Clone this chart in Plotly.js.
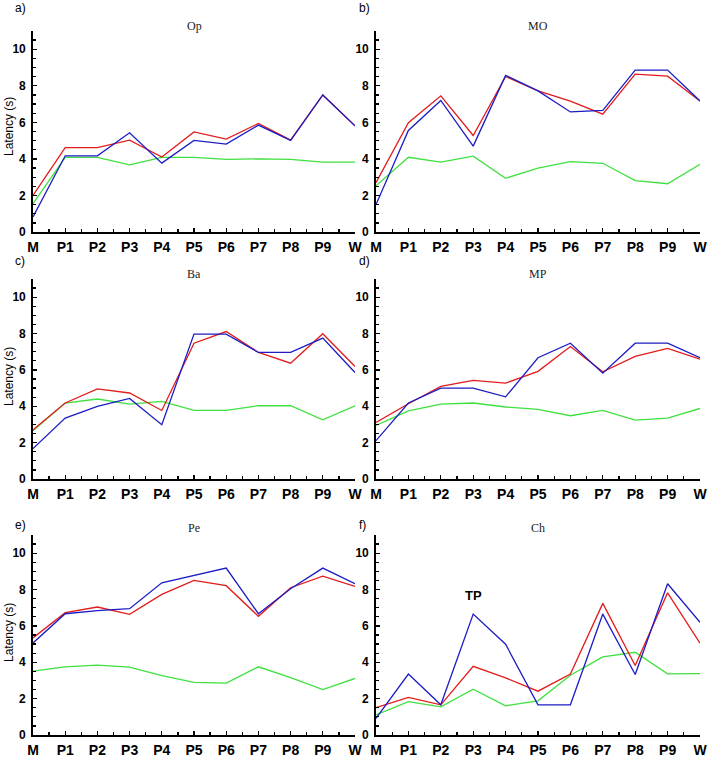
<!DOCTYPE html>
<html>
<head>
<meta charset="utf-8">
<script src="https://cdn.plot.ly/plotly-3.0.1.min.js"></script>
<style>
  body { margin: 0; background: #fff; }
  #chart { width: 709px; height: 757px; }
</style>
</head>
<body>
<div id="chart"></div>
<script>
// categories along the x axis
const stages = ['M', 'P1', 'P2', 'P3', 'P4', 'P5', 'P6', 'P7', 'P8', 'P9', 'W'];

// panel names
const panelNames = ['Op', 'MO', 'Ba', 'MP', 'Pe', 'Ch'];
const panelLetters = ['a)', 'b)', 'c)', 'd)', 'e)', 'f)'];

// latency (s)
const redOp   = [2.0, 4.62, 4.62, 5.03, 4.1, 5.48, 5.08, 5.94, 5.03, 7.5, 5.81];
const blueOp  = [0.82, 4.17, 4.17, 5.43, 3.77, 5.01, 4.81, 5.85, 5.01, 7.5, 5.81];
const greenOp = [1.55, 4.08, 4.08, 3.67, 4.08, 4.08, 3.97, 4.0, 3.97, 3.82, 3.82];

const redMO   = [2.7, 5.98, 7.45, 5.28, 8.51, 7.72, 7.16, 6.45, 8.64, 8.53, 7.17];
const blueMO  = [1.5, 5.56, 7.2, 4.7, 8.57, 7.72, 6.57, 6.66, 8.86, 8.86, 7.17];
const greenMO = [2.53, 4.09, 3.82, 4.15, 2.94, 3.49, 3.85, 3.76, 2.81, 2.64, 3.71];

const redBa   = [2.71, 4.18, 4.96, 4.73, 3.77, 7.47, 8.11, 6.96, 6.37, 7.99, 6.19];
const blueBa  = [1.67, 3.35, 3.99, 4.43, 2.99, 7.97, 7.97, 6.96, 6.96, 7.75, 5.86];
const greenBa = [2.66, 4.18, 4.4, 4.12, 4.27, 3.77, 3.77, 4.03, 4.03, 3.26, 4.03];

const redMP   = [3.11, 4.14, 5.09, 5.42, 5.27, 5.92, 7.29, 5.9, 6.74, 7.18, 6.59];
const blueMP  = [2.11, 4.18, 5.0, 5.0, 4.52, 6.67, 7.47, 5.82, 7.47, 7.47, 6.67];
const greenMP = [2.95, 3.75, 4.12, 4.18, 3.96, 3.83, 3.48, 3.77, 3.24, 3.35, 3.88];

const redPe   = [5.34, 6.73, 7.04, 6.64, 7.73, 8.5, 8.21, 6.53, 8.1, 8.74, 8.17];
const bluePe  = [5.06, 6.67, 6.84, 6.95, 8.37, 8.78, 9.18, 6.67, 8.04, 9.18, 8.32];
const greenPe = [3.51, 3.75, 3.84, 3.73, 3.26, 2.89, 2.85, 3.75, 3.16, 2.5, 3.11];

const redCh   = [1.5, 2.07, 1.66, 3.78, 3.14, 2.41, 3.35, 7.24, 3.82, 7.82, 5.05];
const blueCh  = [0.91, 3.35, 1.66, 6.65, 4.99, 1.66, 1.66, 6.65, 3.33, 8.32, 6.2];
const greenCh = [1.1, 1.83, 1.55, 2.52, 1.61, 1.88, 3.29, 4.3, 4.55, 3.36, 3.38];

const panelSeries = [
  [redOp, blueOp, greenOp],
  [redMO, blueMO, greenMO],
  [redBa, blueBa, greenBa],
  [redMP, blueMP, greenMP],
  [redPe, bluePe, greenPe],
  [redCh, blueCh, greenCh]
];

const colors = ['#e31b1b', '#1c1cc4', '#3fe03f'];

const W = 709, H = 757;
// pixel boxes of each panel's plot area (left, right, top, bottom)
const colBox = [[33, 355], [376, 700]];
const rowBox = [[31, 232], [279, 479], [535, 735]];

const xIdx = stages.map((s, i) => i);

const traces = [];
const layout = {
  width: W, height: H,
  margin: { l: 0, r: 0, t: 0, b: 0 },
  paper_bgcolor: '#fff',
  plot_bgcolor: 'rgba(0,0,0,0)',
  showlegend: false,
  font: { family: 'Liberation Sans, Arial, sans-serif', color: '#000' },
  annotations: []
};

panelSeries.forEach((series, p) => {
  const n = p === 0 ? '' : String(p + 1);
  const col = p % 2, row = Math.floor(p / 2);
  // green first, then red, blue on top
  [2, 0, 1].forEach(k => {
    traces.push({
      x: xIdx,
      y: series[k],
      type: 'scatter',
      mode: 'lines',
      line: { color: colors[k], width: 1.3 },
      xaxis: 'x' + n,
      yaxis: 'y' + n,
      hoverinfo: 'skip'
    });
  });

  layout['xaxis' + n] = {
    domain: [colBox[col][0] / W, colBox[col][1] / W],
    anchor: 'y' + n,
    range: [0, 10],
    tickmode: 'array',
    tickvals: xIdx,
    ticktext: stages,
    ticks: 'inside',
    ticklen: 4,
    tickwidth: 1.3,
    tickcolor: '#000',
    minor: { tickmode: 'linear', tick0: 0, dtick: 0.5, ticks: 'inside', ticklen: 3, tickcolor: '#000', tickwidth: 1.3 },
    showline: true, linecolor: '#000', linewidth: 1.8,
    showgrid: false, zeroline: false,
    ticklabelstandoff: 1,
    tickfont: { family: 'Liberation Sans, Arial, sans-serif', size: 14, color: '#000', weight: 'bold' },
    fixedrange: true
  };
  layout['yaxis' + n] = {
    domain: [1 - rowBox[row][1] / H, 1 - rowBox[row][0] / H],
    anchor: 'x' + n,
    range: [0, 11],
    tick0: 0,
    dtick: 2,
    ticks: 'inside',
    ticklen: 4,
    tickwidth: 1.3,
    tickcolor: '#000',
    minor: { tick0: 0, dtick: 0.5, ticks: 'inside', ticklen: 3, tickcolor: '#000', tickwidth: 1.3 },
    showline: true, linecolor: '#000', linewidth: 1.8,
    showgrid: false, zeroline: false,
    ticklabelstandoff: 3,
    tickfont: { family: 'Liberation Sans, Arial, sans-serif', size: 12, color: '#000', weight: 'bold' },
    fixedrange: true
  };

  // panel letter
  layout.annotations.push({
    text: panelLetters[p], xref: 'paper', yref: 'paper',
    x: (col === 0 ? 13 : 357) / W, y: 1 - [8, 261, 525][row] / H,
    xanchor: 'left', yanchor: 'middle', showarrow: false,
    font: { size: 12, color: '#000' }
  });
  // panel name
  layout.annotations.push({
    text: panelNames[p], xref: 'paper', yref: 'paper',
    x: (col === 0 ? 194 : 538) / W, y: 1 - [26, 274, 528][row] / H,
    xanchor: 'center', yanchor: 'middle', showarrow: false,
    font: { family: 'Liberation Serif, Times New Roman, serif', size: 12, color: '#222' }
  });
  // y-axis title, left column only
  if (col === 0) {
    layout.annotations.push({
      text: 'Latency (s)', xref: 'paper', yref: 'paper',
      x: 9 / W, y: 1 - [127, 377, 633][row] / H,
      xanchor: 'center', yanchor: 'middle', textangle: -90, showarrow: false,
      font: { size: 12, color: '#000' }
    });
  }
});

// TP label in panel f
layout.annotations.push({
  text: 'TP', xref: 'x6', yref: 'y6',
  x: 3, y: 7.15, yanchor: 'bottom', showarrow: false,
  font: { size: 13, color: '#000', weight: 'bold' }
});

Plotly.newPlot('chart', traces, layout, { displayModeBar: false, staticPlot: true });
</script>
</body>
</html>
